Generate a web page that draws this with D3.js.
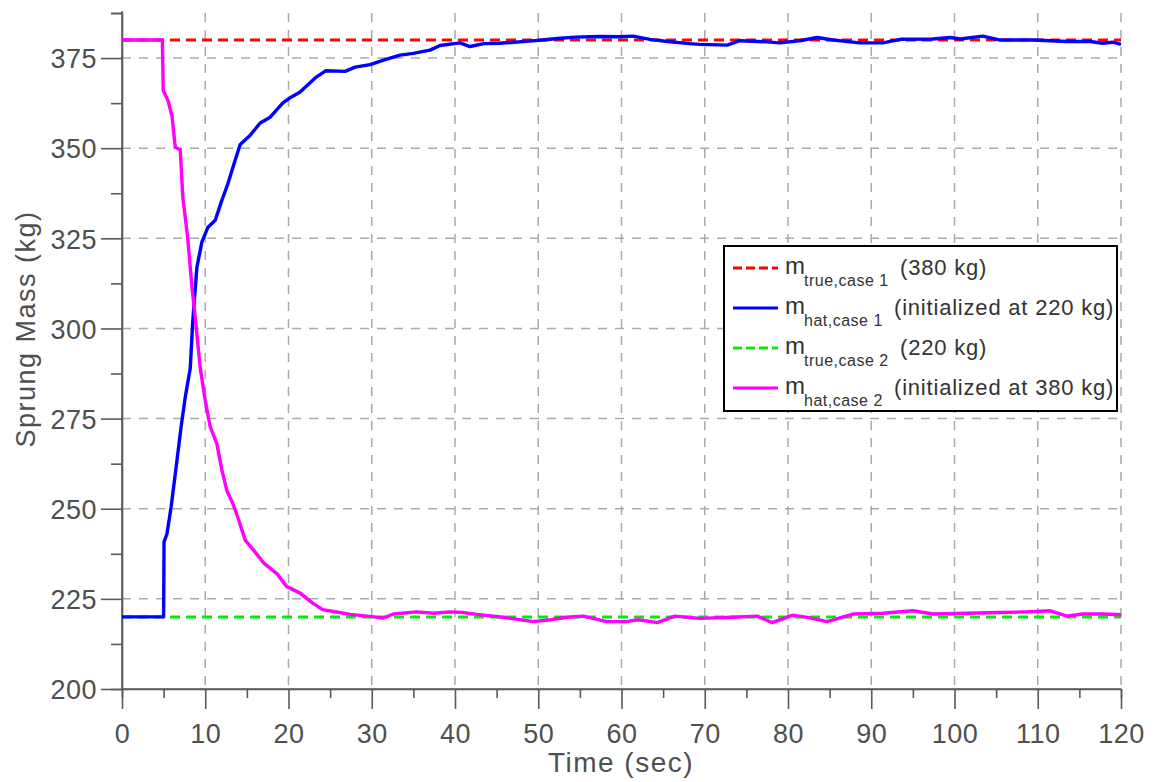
<!DOCTYPE html>
<html><head><meta charset="utf-8">
<script src="https://cdn.jsdelivr.net/npm/d3@7"></script>
<style>body{margin:0;background:#fff}svg{display:block}text{font-family:"Liberation Sans",Arial,sans-serif}</style>
</head><body>
<svg id="c" width="1156" height="782"></svg>
<script>
// ---- data ----
const xTicks = [0,10,20,30,40,50,60,70,80,90,100,110,120];
const yTicks = [200,225,250,275,300,325,350,375];
const xMinor = [5,15,25,35,45,55,65,75,85,95,105,115];
const yMinor = [212.5,237.5,262.5,287.5,312.5,337.5,362.5,387.5];

const trueCase1 = 380;
const trueCase2 = 220;

const hat1T = [0,5,5.05,5.4,5.9,6.5,7.1,7.6,8.2,8.5,9.0,9.6,10.3,11.2,12,12.7,13.6,14.2,15.4,16.6,17.8,19.3,20.2,21.4,23.2,24.5,26.8,28,29.8,31.5,33.4,35,37,38.2,40.6,41.8,43.5,45.4,48.9,50.5,52.6,54.5,56.2,57.4,59.8,61.4,63.4,65.5,68.2,69.4,72.7,74.2,77.5,79,81.4,83.5,85.4,88.6,91.4,93.5,97.4,99.5,100.7,103.4,105.5,109.4,113.5,116.3,117.8,119,120];
const hat1V = [220,220,240.8,243,250.5,261.5,272.7,281,289,302,317,324,328,330,335.6,340,346.7,351,353.6,357,358.6,362.5,364,365.6,369.5,371.5,371.3,372.5,373.2,374.5,375.8,376.3,377.2,378.5,379.2,378.2,379,379.1,379.7,380,380.5,380.8,380.9,381,380.9,381.1,380.2,379.6,379,378.8,378.6,379.8,379.5,379.2,379.8,380.7,380,379.2,379.2,380.2,380.3,380.7,380.3,381.1,380,380,379.6,379.6,379.1,379.4,378.8];

const hat2T = [0,4.85,4.95,5.5,6,6.4,7,7.3,7.9,8.4,8.8,9.4,10,10.6,11.4,12,12.6,13.3,13.9,14.8,15.8,17,18.6,19.8,21.4,22.9,24.1,25.4,27.4,29.5,31.4,32.6,35.4,37.4,39.4,41,43.4,45.8,49.4,51.5,53.4,55.4,58.2,60.6,62,64.3,66.4,69.4,73.4,76.3,78.1,80.6,82.5,84.7,87.8,91.4,95,97.4,101.5,105.5,108.7,111.5,113.5,115.4,117.8,120];
const hat2V = [380,380,366,363.4,359,350.3,349.5,336.5,325,311.5,303,289,280,272.7,268,260.7,255,251.5,247.7,241.3,238.5,235,232,228.4,226.6,223.8,222,221.5,220.7,220.2,219.7,220.8,221.4,221,221.4,221.2,220.5,219.9,218.7,219.2,219.9,220.2,218.7,218.7,219.2,218.4,220.2,219.6,219.9,220.2,218.4,220.5,219.8,218.7,220.8,221,221.7,220.8,221,221.2,221.4,221.7,220.2,220.8,220.8,220.6];

const legendSubs = ["true,case 1","hat,case 1","true,case 2","hat,case 2"];
const legendNotes = ["(380 kg)","(initialized at 220 kg)","(220 kg)","(initialized at 380 kg)"];
const legendColors = ["#ff0000","#0000ff","#00ee00","#ff00ff"];
const legendDashed = [true,false,true,false];

// ---- chart ----
const svg = d3.select("#c");
const x = d3.scaleLinear().domain([0,120]).range([122,1121]);
const y = d3.scaleLinear().domain([200,387.5]).range([689,13]);
const axisCol = "#5a5a5a", txtCol = "#4f4f4f";

// grid
const g = svg.append("g");
g.selectAll(".vg").data(xTicks.slice(1)).enter().append("line")
  .attr("x1",d=>x(d)).attr("x2",d=>x(d)).attr("y1",y(387.5)).attr("y2",y(200))
  .attr("stroke","#aaaaaa").attr("stroke-width",1.5).attr("stroke-dasharray","9,8");
g.selectAll(".hg").data(yTicks.slice(1)).enter().append("line")
  .attr("x1",x(0)).attr("x2",x(120)).attr("y1",d=>y(d)).attr("y2",d=>y(d))
  .attr("stroke","#aaaaaa").attr("stroke-width",1.5).attr("stroke-dasharray","9,8");

// axes
const xa = svg.append("g").attr("transform",`translate(0,${y(200)})`)
  .call(d3.axisBottom(x).tickValues(xTicks).tickSize(20).tickPadding(8).tickFormat(d3.format("d")));
const xm = svg.append("g").attr("transform",`translate(0,${y(200)})`)
  .call(d3.axisBottom(x).tickValues(xMinor).tickSize(9).tickFormat(""));
const ya = svg.append("g").attr("transform",`translate(${x(0)},0)`)
  .call(d3.axisLeft(y).tickValues(yTicks).tickSize(21).tickPadding(4).tickFormat(d3.format("d")));
const ym = svg.append("g").attr("transform",`translate(${x(0)},0)`)
  .call(d3.axisLeft(y).tickValues(yMinor).tickSize(11).tickFormat(""));
[xa,xm,ya,ym].forEach(a=>{
  a.select(".domain").attr("stroke",axisCol).attr("stroke-width",1.6);
  a.selectAll(".tick line").attr("stroke",axisCol).attr("stroke-width",1.6);
  a.selectAll(".tick text").attr("fill",txtCol).attr("font-size",27).attr("letter-spacing",0.5)
   .attr("font-family","Liberation Sans, Arial, sans-serif");
});
ya.select(".domain").attr("d",`M0,${y(387.5)-2}V${y(200)}`);
xa.select(".domain").attr("d",`M${x(0)},0H${x(120)}`);
xa.selectAll(".tick text").attr("dy","0.95em");
ya.selectAll(".tick text").attr("dy","0.36em");

// axis titles
svg.append("text").attr("x",621).attr("y",772).attr("text-anchor","middle")
  .attr("font-size",28).attr("letter-spacing",1.5).attr("fill",txtCol).text("Time (sec)");
svg.append("text").attr("transform",`translate(35,${329}) rotate(-90)`).attr("text-anchor","middle")
  .attr("font-size",27).attr("letter-spacing",1.5).attr("fill",txtCol).text("Sprung Mass (kg)");

// lines
const line = d3.line().x(d=>x(d[0])).y(d=>y(d[1]));
const zip = (T,V)=>T.map((t,i)=>[t,V[i]]);
svg.append("path").datum([[0,trueCase1],[120,trueCase1]]).attr("d",line)
  .attr("fill","none").attr("stroke","#ff0000").attr("stroke-width",3).attr("stroke-dasharray","10,6");
svg.append("path").datum([[0,trueCase2],[120,trueCase2]]).attr("d",line)
  .attr("fill","none").attr("stroke","#00ee00").attr("stroke-width",3).attr("stroke-dasharray","10,6");
svg.append("path").datum(zip(hat1T,hat1V)).attr("d",line)
  .attr("fill","none").attr("stroke","#0000ff").attr("stroke-width",3.4).attr("stroke-linejoin","round");
svg.append("path").datum(zip(hat2T,hat2V)).attr("d",line)
  .attr("fill","none").attr("stroke","#ff00ff").attr("stroke-width",3.4).attr("stroke-linejoin","round");

// legend
const lg = svg.append("g");
lg.append("rect").attr("x",724).attr("y",246).attr("width",393).attr("height",165)
  .attr("fill","#fff").attr("stroke","#000").attr("stroke-width",2);
const rowY = [268,308,348,388];
const noteX = [900,894,900,894];
legendSubs.forEach((s,i)=>{
  const ry = rowY[i];
  lg.append("line").attr("x1",733).attr("x2",778).attr("y1",ry).attr("y2",ry)
    .attr("stroke",legendColors[i]).attr("stroke-width",3)
    .attr("stroke-dasharray",legendDashed[i]?"9,4":null);
  lg.append("text").attr("x",785).attr("y",ry+5.5).attr("font-size",24).attr("fill","#333").text("m");
  lg.append("text").attr("x",804).attr("y",ry+18).attr("font-size",16).attr("letter-spacing",0.5).attr("fill","#333").text(s);
  lg.append("text").attr("x",noteX[i]).attr("y",ry+7).attr("font-size",22).attr("letter-spacing",0.8).attr("fill","#333").text(legendNotes[i]);
});
</script>
</body></html>
